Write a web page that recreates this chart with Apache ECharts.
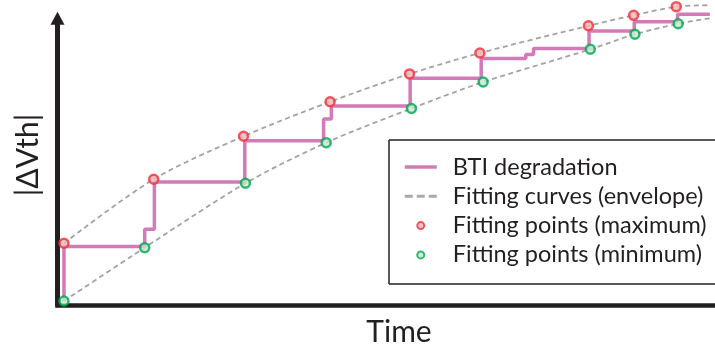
<!DOCTYPE html>
<html>
<head>
<meta charset="utf-8">
<script src="https://cdn.jsdelivr.net/npm/echarts@6/dist/echarts.min.js"></script>
<style>
  html, body { margin: 0; padding: 0; background: #ffffff; }
  #chart { width: 715px; height: 349px; }
</style>
</head>
<body>
<div id="chart"></div>
<script>
// BTI degradation trace: time where each level starts and the |ΔVth| level held from there
const stepTimes  = [0, 0, 1.25, 1.40, 2.80, 4.02, 4.14, 5.36, 6.46, 7.15, 7.27, 8.13, 8.83, 9.50, 10.0];
const stepLevels = [0, 1.88, 2.47, 4.10, 5.53, 6.28, 6.72, 7.68, 8.36, 8.50, 8.71, 9.31, 9.63, 9.89, 9.89];

// Fitting points at the local maxima / minima of the trace
const maxTimes  = [0, 1.39, 2.78, 4.12, 5.35, 6.44, 8.12, 8.82, 9.48];
const maxLevels = [1.99, 4.20, 5.68, 6.87, 7.83, 8.55, 9.49, 9.85, 10.15];
const minTimes  = [0, 1.25, 2.81, 4.06, 5.38, 6.49, 8.15, 8.84, 9.51];
const minLevels = [0, 1.84, 4.06, 5.46, 6.64, 7.55, 8.68, 9.20, 9.56];

// Envelope curves fitted through those points
const upperTimes  = [0, 1.39, 2.78, 4.12, 5.35, 6.44, 8.12, 8.82, 9.48, 10.0];
const upperLevels = [1.99, 4.20, 5.68, 6.87, 7.83, 8.55, 9.49, 9.85, 10.15, 10.20];
const lowerTimes  = [0, 1.25, 2.81, 4.06, 5.38, 6.49, 8.15, 8.84, 9.51, 10.0];
const lowerLevels = [0, 1.84, 4.06, 5.46, 6.64, 7.55, 8.68, 9.20, 9.56, 9.75];

const xLabel = 'Time';
const yLabel = '|ΔVth|';

const zip = (xs, ys) => xs.map((x, i) => [x, ys[i]]);

const INK = '#231f20';
const PINK = '#d27bb6';
const GREY = '#a3a3a3';
const FONT = 'Lato';

// legend entries for line series: keep only the stroke, hide the centre marker
const noMarker = { color: 'rgba(0,0,0,0)', borderWidth: 0, opacity: 0 };

// legend frame sides (left, top, bottom); the frame runs off the right edge
const frameStyle = { stroke: INK, lineWidth: 1.5 };
const frameSide = (x1, y1, x2, y2) => ({ type: 'line', z: 0, shape: { x1, y1, x2, y2 }, style: frameStyle });

const chart = echarts.init(document.getElementById('chart'), null, { renderer: 'canvas' });

chart.setOption({
  animation: false,
  backgroundColor: '#ffffff',
  grid: { left: 57.5, right: 0, top: 18.2, bottom: 44, containLabel: false },
  xAxis: {
    type: 'value', min: -0.1, max: 10.08,
    axisLine: { show: true, onZero: false, lineStyle: { color: INK, width: 4.5, cap: 'square' } },
    axisTick: { show: false }, axisLabel: { show: false }, splitLine: { show: false }
  },
  yAxis: {
    type: 'value', min: -0.138, max: 9.752,
    axisLine: {
      show: true, onZero: false,
      symbol: ['none', 'triangle'], symbolSize: [14, 13],
      lineStyle: { color: INK, width: 5 }
    },
    axisTick: { show: false }, axisLabel: { show: false }, splitLine: { show: false }
  },
  legend: {
    orient: 'vertical',
    left: 389, top: 140,
    padding: [15, 10, 17, 14],
    borderWidth: 0,
    itemWidth: 32, itemHeight: 7, itemGap: 5.3,
    selectedMode: false,
    textStyle: { fontFamily: FONT, fontSize: 23.5, color: INK, lineHeight: 24, padding: [0, 0, 0, 11], overflow: 'none' },
    data: [
      { name: 'BTI degradation', lineStyle: { width: 3.5, color: PINK }, itemStyle: noMarker },
      { name: 'Fitting curves (envelope)', lineStyle: { width: 3, color: '#aaaaaa', type: [8, 4] }, itemStyle: noMarker },
      { name: 'Fitting points (maximum)', itemStyle: { borderWidth: 2 } },
      { name: 'Fitting points (minimum)', itemStyle: { borderWidth: 2 } }
    ]
  },
  graphic: [
    frameSide(389, 140, 715, 140),
    frameSide(389, 140, 389, 284),
    frameSide(389, 284, 715, 284),
    {
      type: 'text', x: 399, y: 332,
      style: { text: xLabel, font: '30px ' + FONT, fill: INK, align: 'center', verticalAlign: 'middle' }
    },
    {
      type: 'text', x: 28, y: 155, rotation: Math.PI / 2,
      style: { text: yLabel, font: '30px ' + FONT, fill: INK, align: 'center', verticalAlign: 'middle' }
    }
  ],
  series: [
    {
      name: 'Fitting curves (envelope)', type: 'line', data: zip(upperTimes, upperLevels),
      smooth: 0.3, symbol: 'none', clip: false, z: 1,
      lineStyle: { color: GREY, width: 1.8, type: [5, 3.5] }
    },
    {
      name: 'Fitting curves (envelope)', type: 'line', data: zip(lowerTimes, lowerLevels),
      smooth: 0.3, symbol: 'none', clip: false, z: 1,
      lineStyle: { color: GREY, width: 1.8, type: [5, 3.5] }
    },
    {
      name: 'BTI degradation', type: 'line', step: 'end', data: zip(stepTimes, stepLevels),
      symbol: 'none', clip: false, z: 2,
      lineStyle: { color: PINK, width: 3.5 }
    },
    {
      name: 'Fitting points (maximum)', type: 'scatter', data: zip(maxTimes, maxLevels),
      symbol: 'circle', symbolSize: 9, clip: false, z: 3,
      itemStyle: { color: '#f6b6b9', borderColor: '#ee3039', borderWidth: 2.5 }
    },
    {
      name: 'Fitting points (minimum)', type: 'scatter', data: zip(minTimes, minLevels),
      symbol: 'circle', symbolSize: 9, clip: false, z: 3,
      itemStyle: { color: '#c6e8cf', borderColor: '#00a651', borderWidth: 2.5 }
    }
  ]
});
</script>
</body>
</html>
